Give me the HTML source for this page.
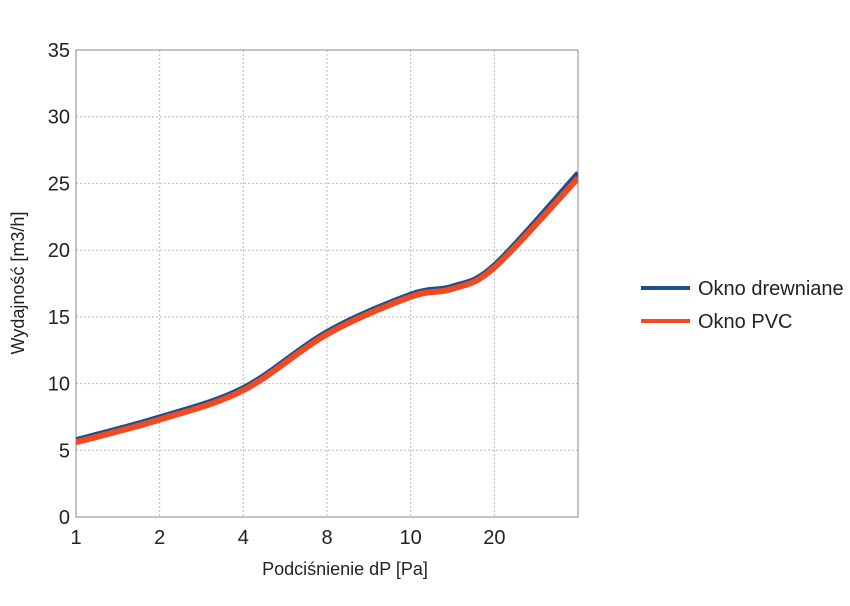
<!DOCTYPE html>
<html><head><meta charset="utf-8"><style>
body{margin:0;background:#fff;font-family:"Liberation Sans",sans-serif;}
svg text{font-family:"Liberation Sans",sans-serif;fill:#222;}
</style></head><body>
<svg id="chart" width="850" height="601"></svg>
<script>
const tickLabels=["1","2","4","8","10","20",""];
const yTicks=[0,5,10,15,20,25,30,35];
const xPos=[0,1,2,3,4,4.5,5,6];
const woodValues=[5.8,7.5,9.7,13.9,16.7,17.3,18.9,25.8];
const pvcValues=[5.6,7.3,9.5,13.7,16.5,17.1,18.7,25.4];
const NS="http://www.w3.org/2000/svg";
const svg=document.getElementById('chart');
const L=76,R=578,T=50,B=517;
const xs=i=>L+i*(R-L)/6;
const ys=v=>B-v*(B-T)/35;
function mk(t,a,p){const e=document.createElementNS(NS,t);for(const k in a)e.setAttribute(k,a[k]);(p||svg).appendChild(e);return e;}
yTicks.forEach(v=>{
  const g=mk('line',{x1:L,x2:R,y1:ys(v),y2:ys(v),stroke:'#bbb','stroke-dasharray':'2,2'});
  
  
  const t=mk('text',{x:70,y:ys(v)+7,'text-anchor':'end','font-size':20});
  t.textContent=v;
  
  
});
tickLabels.forEach((l,i)=>{
  const g=mk('line',{x1:xs(i),x2:xs(i),y1:T,y2:B,stroke:'#bbb','stroke-dasharray':'2,2'});
  
  
  const t=mk('text',{x:xs(i),y:544,'text-anchor':'middle','font-size':20});
  t.textContent=l;
  
  
});
const fr=mk('rect',{x:L,y:T,width:R-L,height:B-T,fill:'none',stroke:'#888','stroke-width':1});


function path(vals){
  const p=xPos.map((x,i)=>[xs(x),ys(vals[i])]);
  let d='M'+p[0][0]+','+p[0][1];
  for(let i=0;i<p.length-1;i++){
    const p0=p[Math.max(0,i-1)],p1=p[i],p2=p[i+1],p3=p[Math.min(p.length-1,i+2)];
    const c1=[p1[0]+(p2[0]-p0[0])/6,p1[1]+(p2[1]-p0[1])/6];
    const c2=[p2[0]-(p3[0]-p1[0])/6,p2[1]-(p3[1]-p1[1])/6];
    d+=` C${c1[0]},${c1[1]} ${c2[0]},${c2[1]} ${p2[0]},${p2[1]}`;
  }
  return d;
}
const clip=mk('clipPath',{id:'c'});mk('rect',{x:L,y:T,width:R-L,height:B-T},clip);
const s1=mk('path',{d:path(woodValues),fill:'none',stroke:'#1f4e8c','stroke-width':5,'clip-path':'url(#c)'});


const s2=mk('path',{d:path(pvcValues),fill:'none',stroke:'#f04a23','stroke-width':6,'clip-path':'url(#c)'});


</script>
<svg width="850" height="601" style="position:absolute;left:0;top:0">
<text x="345" y="575" text-anchor="middle" font-size="18">Podciśnienie dP [Pa]</text>
<text transform="translate(24,283) rotate(-90)" text-anchor="middle" font-size="18">Wydajność [m3/h]</text>
<g><line x1="641" x2="690" y1="288" y2="288" stroke="#1f4e8c" stroke-width="4"/><text x="698" y="295" font-size="20">Okno drewniane</text></g>
<g><line x1="641" x2="690" y1="321" y2="321" stroke="#f04a23" stroke-width="4"/><text x="698" y="328" font-size="20">Okno PVC</text></g>
</svg>
</body></html>
